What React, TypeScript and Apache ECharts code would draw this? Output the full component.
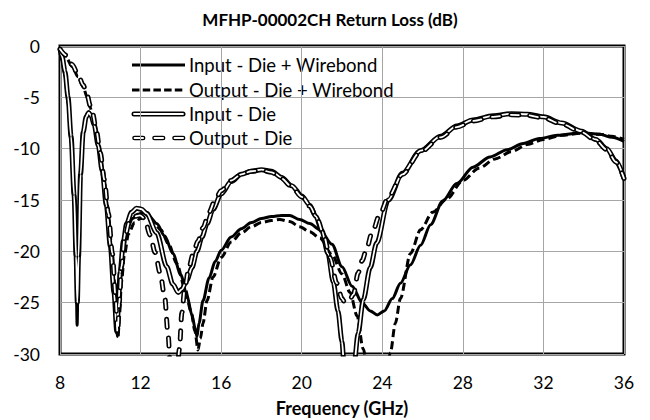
import React, { useEffect, useRef } from "react";
import * as echarts from "echarts";

const TITLE = "MFHP-00002CH Return Loss (dB)";
const X_NAME = "Frequency (GHz)";
const SERIES_NAMES = ["Input - Die + Wirebond", "Output - Die + Wirebond", "Input - Die", "Output - Die"];

const freqInW = [8.0, 8.1, 8.25, 8.4, 8.55, 8.7, 8.8, 8.85, 8.9, 9.0, 9.15, 9.3, 9.42, 9.55, 9.7, 9.9, 10.1, 10.3, 10.5, 10.7, 10.85, 10.92, 11.0, 11.15, 11.35, 11.6, 11.85, 12.1, 12.4, 12.8, 13.2, 13.6, 14.0, 14.3, 14.55, 14.72, 14.8, 14.9, 15.1, 15.4, 15.7, 16.0, 16.5, 17.0, 17.5, 18.0, 18.5, 19.0, 19.4, 19.9, 20.4, 20.9, 21.5, 22.0, 22.5, 23.0, 23.4, 23.75, 24.1, 24.5, 24.9, 25.4, 25.9, 26.4, 27.0, 27.7, 28.5, 29.35, 30.2, 31.0, 31.8, 32.7, 33.9, 34.8, 35.4, 36.0];
const rlInW = [-0.7, -1.4, -3.0, -5.6, -9.5, -15.5, -22.5, -27.2, -22.5, -13.0, -8.4, -6.8, -6.4, -6.7, -7.6, -9.6, -12.0, -15.3, -19.3, -24.0, -28.3, -25.5, -22.8, -19.7, -17.7, -16.8, -16.4, -16.25, -16.5, -17.3, -18.5, -20.2, -22.3, -24.3, -26.2, -27.6, -28.3, -27.0, -24.8, -22.6, -21.0, -19.9, -18.6, -17.8, -17.2, -16.8, -16.6, -16.5, -16.5, -16.9, -17.3, -17.9, -19.3, -21.5, -23.4, -25.0, -25.8, -26.2, -25.8, -24.6, -23.1, -21.3, -19.4, -17.4, -15.1, -13.4, -11.8, -10.8, -10.1, -9.5, -9.0, -8.7, -8.45, -8.6, -8.9, -9.3];

const freqOutW = [8.0, 8.3, 8.6, 8.9, 9.15, 9.35, 9.5, 9.62, 9.8, 10.0, 10.2, 10.4, 10.6, 10.75, 10.88, 10.96, 11.05, 11.2, 11.4, 11.7, 12.0, 12.3, 12.6, 13.0, 13.4, 13.8, 14.2, 14.5, 14.7, 14.85, 14.97, 15.1, 15.3, 15.6, 16.0, 16.5, 17.0, 17.5, 18.0, 18.5, 18.9, 19.4, 19.9, 20.4, 20.9, 21.5, 22.0, 22.4, 22.75, 23.05, 23.4, 23.8, 24.1, 24.4, 24.65, 24.9, 25.4, 25.9, 26.5, 27.2, 28.0, 28.8, 29.6, 30.4, 31.2, 32.0, 32.9, 33.9, 34.8, 35.4, 36.0];
const rlOutW = [-0.5, -1.1, -2.0, -3.0, -4.0, -5.0, -6.0, -6.8, -8.4, -10.6, -13.2, -16.5, -20.3, -24.0, -28.4, -26.0, -23.0, -20.3, -18.3, -17.2, -16.8, -16.7, -17.0, -17.9, -19.3, -21.2, -23.6, -25.8, -27.8, -29.6, -28.5, -27.0, -24.8, -22.5, -20.6, -19.1, -18.2, -17.6, -17.2, -17.0, -16.9, -17.1, -17.6, -18.1, -18.7, -20.3, -22.2, -24.0, -26.3, -29.5, -33.5, -35.0, -33.5, -29.9, -27.0, -24.6, -20.2, -17.9, -16.2, -14.9, -13.1, -11.9, -11.0, -10.3, -9.6, -9.1, -8.7, -8.5, -8.6, -8.8, -9.1];

const freqInD = [8.0, 8.1, 8.25, 8.4, 8.55, 8.7, 8.8, 8.86, 8.92, 9.02, 9.15, 9.3, 9.42, 9.55, 9.7, 9.9, 10.1, 10.3, 10.5, 10.68, 10.82, 10.9, 10.98, 11.15, 11.31, 11.55, 11.8, 12.05, 12.3, 12.8, 13.3, 13.6, 13.87, 14.05, 14.3, 14.55, 14.8, 15.05, 15.3, 15.6, 16.0, 16.5, 17.0, 17.5, 18.0, 18.5, 19.0, 19.5, 20.0, 20.4, 20.7, 21.0, 21.3, 21.57, 21.8, 22.0, 22.1, 22.35, 22.6, 22.8, 23.06, 23.4, 23.72, 24.3, 25.0, 25.9, 26.9, 27.7, 28.5, 29.5, 30.4, 31.2, 32.0, 32.9, 33.9, 34.6, 35.15, 35.6, 36.0];
const rlInD = [-0.3, -1.0, -2.5, -5.0, -8.8, -14.5, -20.5, -25.0, -20.5, -12.5, -8.4, -6.9, -6.5, -6.8, -7.7, -9.7, -12.2, -15.5, -19.5, -24.0, -27.8, -25.5, -22.1, -19.0, -17.3, -16.2, -15.8, -15.9, -16.3, -18.2, -21.5, -23.2, -24.0, -23.7, -22.8, -21.6, -20.0, -18.6, -17.3, -15.9, -14.4, -13.2, -12.5, -12.2, -12.05, -12.2, -12.8, -13.6, -14.6, -15.5, -16.6, -18.0, -20.2, -23.0, -25.8, -28.8, -31.0, -36.0, -31.0, -28.0, -24.7, -21.6, -19.2, -15.0, -12.4, -10.2, -8.8, -7.8, -7.2, -6.8, -6.6, -6.65, -6.9, -7.5, -8.3, -9.1, -10.0, -11.2, -12.9];

const freqOutD = [8.0, 8.3, 8.6, 8.9, 9.15, 9.35, 9.5, 9.62, 9.8, 10.0, 10.2, 10.4, 10.6, 10.75, 10.86, 10.94, 11.05, 11.2, 11.45, 11.7, 11.97, 12.2, 12.47, 12.72, 12.97, 13.2, 13.36, 13.5, 13.65, 13.8, 13.93, 14.05, 14.2, 14.4, 14.6, 14.85, 15.1, 15.4, 15.7, 16.0, 16.5, 17.0, 17.5, 18.0, 18.5, 19.0, 19.5, 20.0, 20.4, 20.8, 21.1, 21.4, 21.74, 22.0, 22.15, 22.35, 22.57, 22.8, 23.0, 23.23, 23.47, 23.9, 24.3, 25.0, 25.9, 26.9, 27.7, 28.5, 29.5, 30.4, 31.2, 32.0, 32.9, 33.9, 34.6, 35.15, 35.6, 36.0];
const rlOutD = [-0.3, -0.9, -1.8, -2.8, -3.8, -4.8, -5.8, -6.6, -8.2, -10.4, -13.0, -16.3, -20.2, -24.2, -28.0, -25.0, -21.5, -18.8, -17.1, -16.6, -16.5, -16.8, -18.4, -20.1, -22.1, -24.5, -28.0, -32.0, -34.0, -32.0, -29.5, -26.0, -23.5, -21.6, -20.3, -19.0, -17.7, -16.2, -15.0, -14.1, -13.1, -12.5, -12.2, -12.1, -12.3, -12.9, -13.7, -14.7, -15.6, -17.0, -18.5, -20.6, -23.1, -24.6, -25.0, -24.8, -24.2, -22.1, -20.9, -19.7, -18.3, -16.3, -14.7, -12.5, -10.3, -8.9, -7.9, -7.3, -6.9, -6.7, -6.75, -7.0, -7.6, -8.4, -9.2, -10.1, -11.3, -12.9];

const X_MIN = 8, X_MAX = 36, X_STEP = 4;
const Y_MIN = -30, Y_MAX = 0, Y_STEP = 5;

function zip(xs: number[], ys: number[]) {
  const n = Math.min(xs.length, ys.length);
  const out: number[][] = [];
  for (let i = 0; i < n; i++) out.push([xs[i], ys[i]]);
  return out;
}

const FONT = "Lato";
const DASH_THICK = [8, 4];
const DASH_PILL = [8, 11];

export default function App() {
  const ref = useRef<HTMLDivElement>(null);
  useEffect(() => {
    if (!ref.current) return;
    const chart = echarts.init(ref.current, null, { renderer: "svg" });
    const base = {
      type: "line",
      showSymbol: false,
      symbol: "none",
      smooth: 0.3,
      smoothMonotone: "x",
      clip: true,
      silent: true,
    };
    const dIn = zip(freqInW, rlInW);
    const dOut = zip(freqOutW, rlOutW);
    const dInD = zip(freqInD, rlInD);
    const dOutD = zip(freqOutD, rlOutD);

    const legX1 = 132, legX2 = 185, textX = 189;
    const rows = [65, 90, 114, 138];

    const option: any = {
      animation: false,
      backgroundColor: "#fff",
      grid: { left: 60, right: 26, top: 46, bottom: 66, containLabel: false, outerBoundsMode: "none", show: true, borderColor: "#000", borderWidth: 3, backgroundColor: "transparent" },
      xAxis: {
        type: "value",
        min: X_MIN,
        max: X_MAX,
        interval: X_STEP,
        name: X_NAME,
        nameLocation: "middle",
        nameGap: 45,
        nameTextStyle: { fontFamily: FONT, fontSize: 18, fontWeight: "bold", color: "#000" },
        axisLine: { show: false },
        axisTick: { show: false },
        axisLabel: { fontFamily: FONT, fontSize: 17.5, color: "#000", margin: 19 },
        splitLine: { show: true, lineStyle: { color: "#a6a6a6", width: 1 } },
      },
      yAxis: {
        type: "value",
        min: Y_MIN,
        max: Y_MAX,
        interval: Y_STEP,
        axisLine: { show: false },
        axisTick: { show: false },
        axisLabel: { fontFamily: FONT, fontSize: 17.5, color: "#000", margin: 20 },
        splitLine: { show: true, lineStyle: { color: "#a6a6a6", width: 1 } },
      },
      series: [
        { ...base, name: SERIES_NAMES[0], data: dIn, z: 3, lineStyle: { color: "#000", width: 3 } },
        { ...base, name: SERIES_NAMES[1], data: dOut, z: 3, lineStyle: { color: "#000", width: 3, type: DASH_THICK } },
        { ...base, name: SERIES_NAMES[2], data: dInD, z: 4, lineStyle: { color: "#000", width: 5 } },
        { ...base, name: SERIES_NAMES[2] + " inner", data: dInD, z: 5, lineStyle: { color: "#fff", width: 1.8 } },
        { ...base, name: SERIES_NAMES[3], data: dOutD, z: 6, lineStyle: { color: "#000", width: 5, type: DASH_PILL, cap: "round" } },
        { ...base, name: SERIES_NAMES[3] + " inner", data: dOutD, z: 7, lineStyle: { color: "#fff", width: 1.8, type: DASH_PILL, cap: "round" } },
      ],
      graphic: [
        {
          type: "text",
          x: 330,
          y: 19,
          z: 100,
          style: { text: TITLE, fill: "#000", font: `bold 17px ${FONT}`, align: "center", verticalAlign: "middle", textAlign: "center", textVerticalAlign: "middle" },
        },
        {
          type: "group",
          z: 100,
          children: [
            { type: "rect", shape: { x: 122, y: 53, width: 280, height: 97 }, style: { fill: "#fff" } },
            { type: "line", shape: { x1: legX1, y1: rows[0], x2: legX2, y2: rows[0] }, style: { stroke: "#000", lineWidth: 3 } },
            { type: "line", shape: { x1: legX1, y1: rows[1], x2: legX2, y2: rows[1] }, style: { stroke: "#000", lineWidth: 3, lineDash: [7.5, 3.2] } },
            { type: "line", shape: { x1: legX1 + 2, y1: rows[2], x2: legX2 - 2, y2: rows[2] }, style: { stroke: "#000", lineWidth: 5, lineCap: "round" } },
            { type: "line", shape: { x1: legX1 + 2, y1: rows[2], x2: legX2 - 2, y2: rows[2] }, style: { stroke: "#fff", lineWidth: 1.8, lineCap: "round" } },
            { type: "line", shape: { x1: legX1 + 2.5, y1: rows[3], x2: legX2, y2: rows[3] }, style: { stroke: "#000", lineWidth: 4.6, lineDash: [8.6, 11.4], lineCap: "round" } },
            { type: "line", shape: { x1: legX1 + 2.5, y1: rows[3], x2: legX2, y2: rows[3] }, style: { stroke: "#fff", lineWidth: 1.8, lineDash: [8.6, 11.4], lineCap: "round" } },
            ...SERIES_NAMES.map((t, i) => ({
              type: "text",
              x: textX,
              y: rows[i],
              style: { text: t, fill: "#000", font: `18.5px ${FONT}`, textVerticalAlign: "middle", verticalAlign: "middle" },
            })),
          ],
        },
      ],
    };
    chart.setOption(option);
    return () => chart.dispose();
  }, []);
  return <div ref={ref} style={{ position: "fixed", left: 0, top: 0, width: 650, height: 420, background: "#fff" }} />;
}
